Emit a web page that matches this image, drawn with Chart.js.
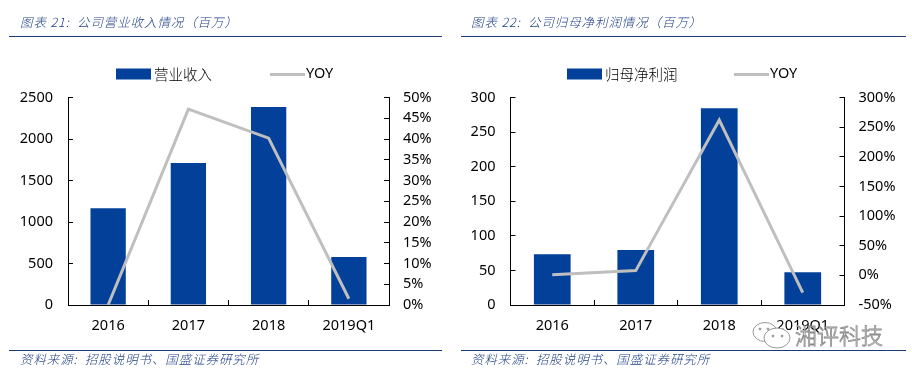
<!DOCTYPE html>
<html><head><meta charset="utf-8">
<script src="https://cdn.jsdelivr.net/npm/chart.js@4"></script>
<style>
html,body{margin:0;padding:0;background:#fff;width:912px;height:374px;overflow:hidden}
canvas{position:absolute;top:0}
.cap{position:absolute;font-family:"Noto Sans CJK SC";font-weight:300;font-style:italic;color:#1f3f86;font-size:12.5px;line-height:16px;white-space:pre;letter-spacing:0.9px}
.rule{position:absolute;height:1px;background:#1c3a78}
#wm{position:absolute;left:795px;top:319px;font-family:"Noto Sans CJK SC";font-weight:300;font-size:22px;line-height:30px;color:rgba(255,255,255,.75);-webkit-text-stroke:.8px #8a8a8a;white-space:pre}
#ic{position:absolute;left:752px;top:320px}
</style></head><body>
<canvas id="c1" width="456" height="374" style="left:0"></canvas>
<canvas id="c2" width="456" height="374" style="left:456px"></canvas>
<div class="rule" style="left:9px;top:36px;width:433px"></div>
<div class="rule" style="left:461px;top:36px;width:445px"></div>
<div class="rule" style="left:9px;top:350px;width:433px"></div>
<div class="rule" style="left:461px;top:350px;width:445px"></div>
<div class="cap" id="t1" style="left:20px;top:14px"></div>
<div class="cap" id="t2" style="left:471px;top:14px"></div>
<div class="cap" id="s1" style="left:20px;top:351px"></div>
<div class="cap" id="s2" style="left:471px;top:351px"></div>
<svg id="ic" width="44" height="30" viewBox="0 0 44 30" fill="none" stroke="#9a9a9a" stroke-width="1">
<ellipse cx="13" cy="12" rx="12" ry="9.5" fill="#fff"/><ellipse cx="25" cy="18" rx="13" ry="10" fill="#fff"/>
<circle cx="8" cy="9" r="1" fill="#9a9a9a"/><circle cx="16" cy="9" r="1" fill="#9a9a9a"/><circle cx="21" cy="16" r="1" fill="#9a9a9a"/><circle cx="30" cy="16" r="1" fill="#9a9a9a"/></svg>
<div id="wm"></div>
<script>
const categories = ['2016', '2017', '2018', '2019Q1'];
const revenueValues = [1165, 1711, 2386, 578];
const revenueYoy = [0, 47.2, 40.2, 1.5];
const profitValues = [73.5, 79.5, 284.5, 47.5];
const profitYoy = [1, 8, 262, -29];
const title1 = '图表 21:  公司营业收入情况（百万）';
const title2 = '图表 22:  公司归母净利润情况（百万）';
const sourceText = '资料来源:  招股说明书、国盛证券研究所';
const watermark = '湘评科技';
const barColor = '#03409a', lineColor = '#bfbfbf', tickFont = {family: '"Noto Sans"', size: 14.5};

document.getElementById('t1').textContent = title1;
document.getElementById('t2').textContent = title2;
document.getElementById('s1').textContent = sourceText;
document.getElementById('s2').textContent = sourceText;
document.getElementById('wm').textContent = watermark;

const topLegend = {
  id: 'topLegend',
  afterDraw(chart, args, o) {
    const c = chart.ctx, ds = chart.data.datasets, y = 74;
    c.save();
    c.textBaseline = 'middle'; c.textAlign = 'left';
    c.fillStyle = ds[0].backgroundColor; c.fillRect(o.barX, y - 5.5, 35, 11);
    c.fillStyle = '#000';
    c.font = '300 14.5px "Noto Sans CJK SC"'; c.fillText(ds[0].label, o.barX + 38, y);
    c.strokeStyle = ds[1].borderColor; c.lineWidth = 3;
    c.beginPath(); c.moveTo(o.lineX, y + .5); c.lineTo(o.lineX + 35, y + .5); c.stroke();
    c.font = tickFont.size + 'px ' + tickFont.family; c.fillText(ds[1].label, o.lineX + 36, y);
    c.restore();
  }
};

function build(id, label, bars, yoy, cfg) {
  const axisGrid = {drawOnChartArea: false, drawTicks: true, tickLength: -5, color: '#000', lineWidth: 1};
  return new Chart(document.getElementById(id), {
    data: {labels: categories, datasets: [
      {type: 'bar', label, data: bars, yAxisID: 'y', backgroundColor: barColor, barPercentage: 1, categoryPercentage: 0.44, order: 1},
      {type: 'line', label: 'YOY', data: yoy, yAxisID: 'y2', borderColor: lineColor, borderWidth: 3, pointRadius: 0, tension: 0, order: 0}
    ]},
    options: {
      responsive: false, animation: false, events: [],
      layout: {padding: {top: 97.5, left: 0, right: 0, bottom: 0}},
      plugins: {legend: {display: false}, tooltip: {enabled: false}, topLegend: cfg.legend},
      scales: {
        x: {grid: {...axisGrid, offset: true}, border: {color: '#000', width: 1},
            ticks: {font: tickFont, color: '#000', padding: 17, maxRotation: 0, autoSkip: false},
            afterFit: s => { s.height = 374 - 305; }},
        y: {position: 'left', min: 0, max: cfg.max, grid: axisGrid, border: {color: '#000', width: 1},
            ticks: {stepSize: cfg.step, font: tickFont, color: '#000', padding: 20, callback: v => String(v)},
            afterFit: s => { s.width = cfg.left; }},
        y2: {position: 'right', min: cfg.min2, max: cfg.max2, grid: axisGrid, border: {color: '#000', width: 1},
            ticks: {stepSize: cfg.step2, font: tickFont, color: '#000', padding: 19, callback: v => v + '%'},
            afterFit: s => { s.width = 456 - cfg.right; }}
      }
    },
    plugins: [topLegend]
  });
}
build('c1', '营业收入', revenueValues, revenueYoy, {max: 2500, step: 500, min2: 0, max2: 50, step2: 5, left: 68, right: 389, legend: {barX: 116, lineX: 270}});
build('c2', '归母净利润', profitValues, profitYoy, {max: 300, step: 50, min2: -50, max2: 300, step2: 50, left: 54.5, right: 388.5, legend: {barX: 111, lineX: 278}});
</script>
</body></html>
